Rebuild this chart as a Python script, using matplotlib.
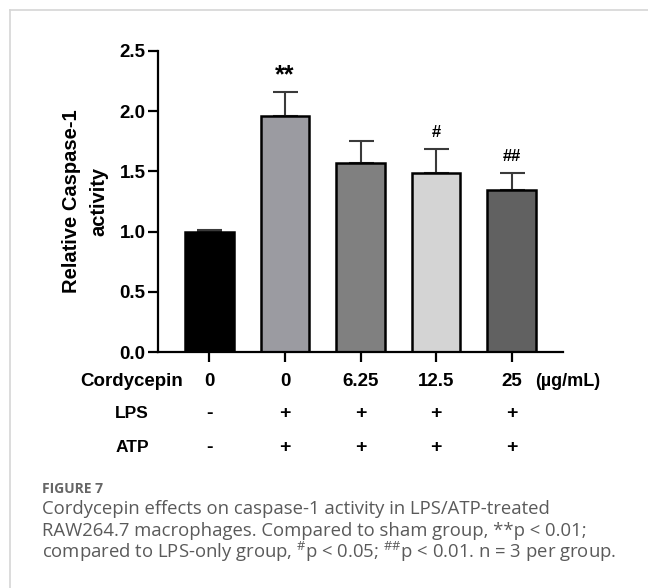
import matplotlib
matplotlib.use("Agg")
import matplotlib.pyplot as plt
from matplotlib.lines import Line2D
from matplotlib.transforms import blended_transform_factory

# data
doses = ["0", "0", "6.25", "12.5", "25"]
means = [1.00, 1.955, 1.565, 1.485, 1.345]
errs = [0.012, 0.20, 0.19, 0.20, 0.14]
lps = ["-", "+", "+", "+", "+"]
atp = ["-", "+", "+", "+", "+"]
marks = ["", "**", "", "#", "##"]
bar_colors = ["#000000", "#9b9ba1", "#808080", "#d4d4d4", "#616161"]

plt.rcParams["font.family"] = ["Liberation Sans", "DejaVu Sans"]
plt.rcParams["mathtext.fontset"] = "custom"
plt.rcParams["mathtext.rm"] = "Open Sans"
plt.rcParams["mathtext.it"] = "Open Sans"
plt.rcParams["mathtext.bf"] = "Open Sans"

W, H = 648, 588
fig = plt.figure(figsize=(W / 100, H / 100), dpi=100)

# card border (left + top only, light grey)
fig.add_artist(Line2D([10 / W, 10 / W], [0, 1 - 10 / H], transform=fig.transFigure,
                      color="#d6d6d6", lw=1.2))
fig.add_artist(Line2D([10 / W, 1], [1 - 10 / H, 1 - 10 / H], transform=fig.transFigure,
                      color="#d6d6d6", lw=1.2))

ax = fig.add_axes([158 / W, 1 - 352.3 / H, (563 - 158) / W, (352.3 - 50.7) / H])
x = list(range(len(means)))
ax.bar(x, means, width=0.64, color=bar_colors, edgecolor="black", linewidth=1.8, zorder=2)
ax.errorbar(x, means, yerr=[[0] * len(errs), errs], fmt="none", ecolor="#3a3a3a",
            elinewidth=1.5, capsize=9, capthick=1.5, zorder=1)

for xi, m, e, s in zip(x, means, errs, marks):
    if not s:
        continue
    fs = 18 if s == "**" else 12
    ax.annotate(s, (xi, m + e), xytext=(0, 12), textcoords="offset points",
                ha="center", va="center", fontsize=fs, fontweight="bold")

ax.set_xlim(-0.68, 4.68)
ax.set_ylim(0, 2.5)
ax.set_yticks([0, 0.5, 1.0, 1.5, 2.0, 2.5])
ax.set_yticklabels([f"{v:.1f}" for v in [0, 0.5, 1.0, 1.5, 2.0, 2.5]],
                   fontsize=13.5, fontweight="bold")
ax.set_xticks(x)
ax.set_xticklabels([])
for side in ("top", "right"):
    ax.spines[side].set_visible(False)
for side in ("left", "bottom"):
    ax.spines[side].set_linewidth(1.6)
ax.tick_params(axis="both", width=1.6, length=7, pad=2)
ax.set_ylabel("Relative Caspase-1\nactivity", fontsize=14.5, fontweight="bold",
              linespacing=1.55, labelpad=8)

# treatment table under the axis
tr = blended_transform_factory(ax.transData, fig.transFigure)
row_y = [1 - 381.7 / H, 1 - 413.3 / H, 1 - 447.5 / H]
fig.text(183 / W, row_y[0], "Cordycepin", ha="right", va="center",
         fontsize=13.5, fontweight="bold")
fig.text(132 / W, row_y[1], "LPS", ha="center", va="center", fontsize=12.5, fontweight="bold")
fig.text(132 / W, row_y[2], "ATP", ha="center", va="center", fontsize=12.5, fontweight="bold")
for xi, d, l, a in zip(x, doses, lps, atp):
    ax.text(xi, row_y[0], d, transform=tr, ha="center", va="center",
            fontsize=13.5, fontweight="bold")
    ax.text(xi, row_y[1], l, transform=tr, ha="center", va="center",
            fontsize=14, fontweight="bold")
    ax.text(xi, row_y[2], a, transform=tr, ha="center", va="center",
            fontsize=14, fontweight="bold")
fig.text(535 / W, row_y[0], "(\u00b5g/mL)", ha="left", va="center",
         fontsize=13, fontweight="bold")

# caption
cap = dict(family=["Open Sans", "DejaVu Sans"], color="#5a5a5a", fontsize=13.3, ha="left", va="center")
fig.text(42 / W, 1 - 489.3 / H, "FIGURE 7", family=["Open Sans", "DejaVu Sans"],
         color="#666666", fontsize=10, fontweight="bold", ha="left", va="center")
fig.text(42 / W, 1 - 509.5 / H,
         "Cordycepin effects on caspase-1 activity in LPS/ATP-treated", **cap)
fig.text(42 / W, 1 - 530.5 / H,
         "RAW264.7 macrophages. Compared to sham group, **p < 0.01;", **cap)
fig.text(42 / W, 1 - 551.5 / H,
         r"compared to LPS-only group, $^{\#}$p < 0.05; $^{\#\#}$p < 0.01. n = 3 per group.", **cap)

fig.savefig("out.png", dpi=100)
